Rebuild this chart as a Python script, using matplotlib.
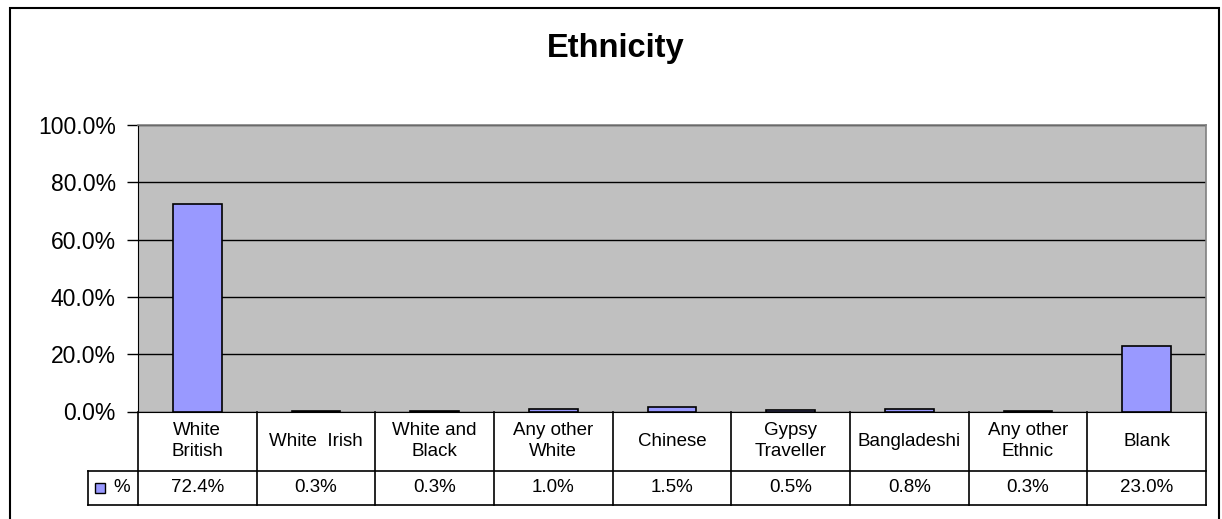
import matplotlib
matplotlib.use('Agg')
from matplotlib import pyplot as plt
from matplotlib.patches import Rectangle
from matplotlib.lines import Line2D

plt.rcParams['font.family'] = ['Liberation Sans', 'DejaVu Sans']

# data
categories = ['White\nBritish', 'White  Irish', 'White and\nBlack', 'Any other\nWhite',
              'Chinese', 'Gypsy\nTraveller', 'Bangladeshi', 'Any other\nEthnic', 'Blank']
values = [72.4, 0.3, 0.3, 1.0, 1.5, 0.5, 0.8, 0.3, 23.0]
value_labels = ['72.4%', '0.3%', '0.3%', '1.0%', '1.5%', '0.5%', '0.8%', '0.3%', '23.0%']
yticks = [0, 20, 40, 60, 80, 100]
series_name = '%'

W, H = 1222, 519
bar_color = '#9999FF'
plot_bg = '#C0C0C0'

fig = plt.figure(figsize=(W / 100, H / 100), dpi=100)

# outer chart frame
fig.patches.append(Rectangle((10 / W, -0.02), (1219 - 10) / W, (H - 8) / H + 0.02,
                             transform=fig.transFigure, fill=False,
                             edgecolor='black', linewidth=1.5))

# plot area position (pixels)
px_left, px_right, px_top, px_bottom = 138, 1206, 125, 411.5
ax = fig.add_axes([px_left / W, (H - px_bottom) / H,
                   (px_right - px_left) / W, (px_bottom - px_top) / H])
ax.set_facecolor(plot_bg)

n = len(categories)
xs = list(range(n))
ax.bar(xs, values, width=0.41, color=bar_color, edgecolor='black', linewidth=1.2, zorder=3)
ax.set_xlim(-0.5, n - 0.5)
ax.set_ylim(0, 100)
ax.set_yticks(yticks)
ax.set_yticklabels(['%.1f%%' % v for v in yticks], fontsize=16.5)
ax.yaxis.grid(True, color='black', linewidth=1, zorder=1)
ax.set_axisbelow(True)
ax.tick_params(axis='y', length=8, width=1, pad=8)
ax.set_xticks([])

for s in ['top', 'right']:
    ax.spines[s].set_color('#808080')
    ax.spines[s].set_linewidth(1.2)
ax.spines['left'].set_color('black')
ax.spines['bottom'].set_color('black')

fig.text(616 / W, 1 - 48 / H, 'Ethnicity', fontsize=23.5, fontweight='bold',
         ha='center', va='center')

# data table under the plot
ah = px_bottom - px_top
aw = px_right - px_left
y_head = -(471 - px_bottom) / ah
y_val = -(505 - px_bottom) / ah
x_leg = -(px_left - 88) / aw
tr = ax.transAxes

def line(x0, x1, y0, y1):
    ax.add_line(Line2D([x0, x1], [y0, y1], transform=tr, color='black',
                       linewidth=1.2, clip_on=False))

for k in range(n + 1):
    line(k / n, k / n, 0, y_val)
line(x_leg, 1, y_head, y_head)
line(x_leg, 1, y_val, y_val)
line(x_leg, x_leg, y_head, y_val)

for i in range(n):
    xc = (i + 0.5) / n
    ax.text(xc, y_head / 2, categories[i], transform=tr, ha='center', va='center',
            fontsize=13.5, linespacing=1.3)
    ax.text(xc, (y_head + y_val) / 2, value_labels[i], transform=tr, ha='center',
            va='center', fontsize=13.5)

# legend key in the table
ym = (y_head + y_val) / 2
ax.add_patch(Rectangle((-(px_left - 95) / aw, ym - 5 / ah), 10 / aw, 10 / ah,
                       transform=tr, facecolor=bar_color, edgecolor='black',
                       linewidth=1, clip_on=False))
ax.text(-(px_left - 113) / aw, ym, series_name, transform=tr, ha='left', va='center',
        fontsize=13.5)

fig.savefig('out.png', dpi=100)
